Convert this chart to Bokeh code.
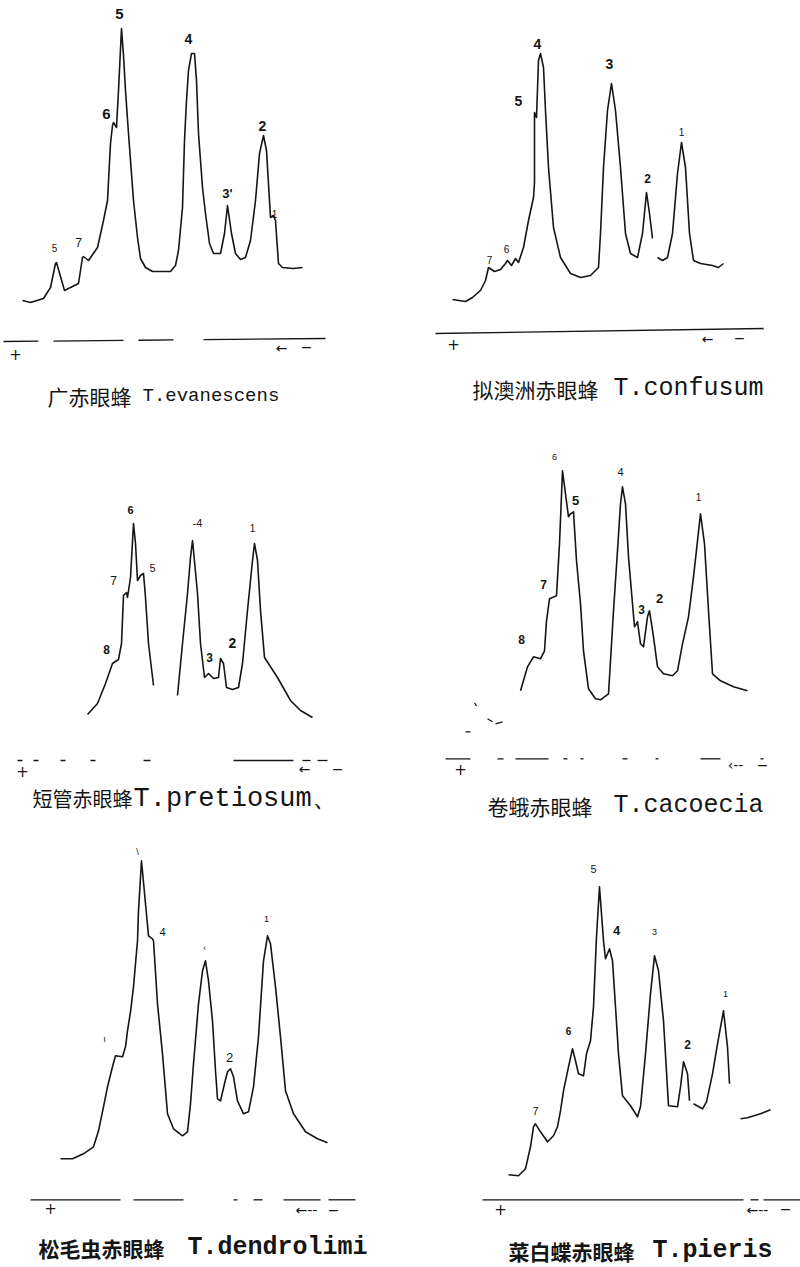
from bokeh.plotting import figure
from bokeh.layouts import column, row
from bokeh.models import Range1d, ColumnDataSource
from bokeh.core.properties import value
from bokeh.embed import file_html
from bokeh.resources import INLINE

NaN = float("nan")

# ---------------- data: densitometer traces (migration, density) ----------------
# Panel 1  T. evanescens
evan_x = [22, 30, 43, 50, 55, 56, 64, 78, 82, 83, 88, 97, 103, 107, 110, 112, 113, 116, 118, 121,
          123, 125, 128, 133, 137, 140, 145, 152, 170, 175, 178, 182, 184, 186, 188, 191, 194, 196,
          198, 202, 205, 209, 213, 220, 224, 227, 231, 235, 240, 245, 250, 255, 259, 263, 266, 270,
          273, 275, 278, 282, 293, 302]
evan_y = [40, 38, 42, 53, 77, 78, 50, 57, 83, 84, 80, 93, 120, 140, 197, 215, 218, 213, 250, 312,
          285, 250, 207, 140, 103, 82, 73, 69, 69, 75, 90, 133, 200, 240, 270, 287, 287, 260,
          207, 153, 127, 97, 87, 87, 107, 135, 107, 87, 81, 83, 100, 140, 187, 205, 190, 123,
          125, 120, 77, 73, 72, 73]
evan_lab = ["5", "4", "6", "2", "3'", "7", "5", "1"]
evan_lab_x = [119, 188, 106, 262, 227, 78, 54, 274]
evan_lab_y = [327, 302, 227, 215, 147, 98, 93, 127]

# Panel 2  T. confusum
conf_x = [52, 65, 72, 80, 85, 88, 94, 100, 105, 107, 111, 115, 118, 123, 128, 133, 134, 134, 136,
          138, 140, 143, 145, 148, 153, 160, 170, 180, 190, 198, 200, 203, 207, 211, 215, 220, 225,
          230, 237, 242, 246, 249, 252, NaN, 257, 262, 267, 272, 277, 281, 285, 289, 293, 300, 312,
          318, 323]
conf_y = [33, 31, 35, 42, 52, 65, 61, 63, 69, 72, 67, 74, 70, 85, 112, 135, 150, 220, 215,
          272, 279, 265, 222, 165, 105, 75, 59, 55, 57, 65, 99, 165, 222, 249, 222, 165, 99,
          79, 75, 99, 140, 119, 94, NaN, 75, 72, 75, 99, 159, 190, 165, 99, 72, 69, 67,
          65, 69]
conf_lab = ["4", "3", "5", "2", "1", "7", "6"]
conf_lab_x = [137, 209, 118, 247, 281, 89, 106]
conf_lab_y = [289, 269, 232, 154, 201, 73, 84]

# Panel 3  T. pretiosum
pret_x = [87, 97, 105, 112, 118, 121, 123, 126, 127, 130, 133, 135, 137, 140, 143, 145, 148, 153, NaN,
          177, 182, 187, 190, 192, 193, 197, 200, 204, 208, 213, 218, 220, 223, 226, 232, 238, 242,
          247, 252, 254, 257, 260, 264, 277, 290, 300, 312]
pret_y = [46, 57, 77, 97, 101, 117, 165, 168, 163, 183, 237, 217, 180, 185, 187, 163, 117, 75, NaN,
          65, 117, 167, 203, 220, 210, 167, 117, 83, 87, 82, 83, 102, 97, 73, 71, 73, 97,
          150, 200, 217, 200, 150, 103, 83, 60, 50, 43]
pret_lab = ["6", "7", "5", "8", "-4", "1", "3", "2"]
pret_lab_x = [130, 113, 152, 106, 197, 252, 209, 232]
pret_lab_y = [251, 180, 193, 111, 238, 233, 103, 118]

# Panel 4  T. cacoecia
caco_x = [120, 127, 133, 140, 144, 146, 149, 156, 159, 162, 165, 168, 170, 173, 176, 180, 183, 188,
          195, 200, 208, 210, 213, 217, 220, 222, 225, 228, 232, 234, 237, 240, 243, 247, 249, 253,
          257, 263, 272, 277, 282, 288, 293, 300, 304, 308, 312, 320, 333, 347]
caco_y = [68, 92, 102, 100, 108, 138, 160, 163, 215, 288, 265, 242, 245, 247, 198, 155, 108, 70,
          60, 59, 65, 98, 148, 208, 255, 272, 255, 202, 155, 132, 137, 115, 112, 142, 148, 122,
          92, 85, 83, 88, 115, 142, 182, 245, 215, 148, 85, 78, 72, 68]
caco_lab = ["6", "4", "5", "1", "7", "8", "3", "2"]
caco_lab_x = [154, 220, 175, 298, 143, 121, 241, 259]
caco_lab_y = [302, 287, 258, 262, 174, 119, 149, 160]
caco_stray_x = [65, 70, NaN, 87, 92, NaN, 95, 102, NaN, 74, 76]
caco_stray_y = [27, 27, NaN, 40, 37, NaN, 35, 37, NaN, 56, 53]

# Panel 5  T. dendrolimi
dend_x = [60, 72, 83, 93, 98, 103, 107, 112, 115, 122, 125, 127, 130, 133, 137, 138, 141, 145, 148,
          152, 153, 157, 162, 167, 173, 182, 187, 190, 193, 198, 202, 205, 208, 212, 215, 217, 220,
          224, 227, 230, 233, 237, 243, 248, 253, 258, 263, 267, 270, 275, 280, 285, 293, 305, 317, 327]
dend_y = [41, 41, 46, 53, 69, 93, 113, 133, 144, 143, 153, 169, 188, 213, 259, 289, 339, 296, 264,
          261, 259, 196, 146, 86, 71, 64, 68, 96, 136, 196, 229, 239, 219, 179, 129, 101, 99,
          116, 128, 131, 123, 99, 86, 88, 113, 163, 239, 264, 256, 213, 163, 109, 86, 68, 61, 57]
dend_lab = ["4", "‹", "1", "2", "ι", "\\"]
dend_lab_x = [162, 204, 266, 229, 104, 137]
dend_lab_y = [268, 252, 281, 142, 161, 348]

# Panel 6  T. pieris
pier_x = [108, 118, 125, 130, 133, 135, 140, 147, 153, 157, 160, 163, 168, 172, 175, 178, 183, 186,
          190, 193, 196, 199, 201, 203, 205, 209, 212, 215, 218, 222, 230, 237, 240, 245, 250, 254,
          258, 263, 268, 277, 280, 283, 287, 289, NaN, 293, 302, 306, 312, 317, 323, 327, 329, NaN,
          340, 347, 360, 370]
pier_y = [25, 24, 31, 53, 73, 76, 68, 58, 64, 73, 89, 109, 133, 151, 139, 126, 124, 146,
          159, 193, 263, 313, 286, 259, 241, 251, 239, 193, 146, 104, 94, 83, 93, 146, 206, 244,
          229, 179, 94, 93, 113, 138, 126, 99, NaN, 96, 91, 98, 126, 156, 189, 153, 116, NaN,
          81, 82, 86, 90]
pier_lab = ["5", "4", "3", "6", "7", "2", "1"]
pier_lab_x = [193, 216, 254, 168, 135, 287, 325]
pier_lab_y = [331, 269, 268, 169, 89, 155, 206]

# captions
cap_zh = ["广赤眼蜂", "拟澳洲赤眼蜂", "短管赤眼蜂", "卷蛾赤眼蜂", "松毛虫赤眼蜂", "菜白蝶赤眼蜂"]
cap_la = ["T.evanescens", "T.confusum", "T.pretiosum、", "T.cacoecia", "T.dendrolimi", "T.pieris"]

# baseline pieces (x start, x end)
base_p1 = [(3, 38), (53, 123), (138, 173), (203, 325)]
base_p2 = [(35, 363)]
base_p3 = [(17, 22), (33, 38), (60, 65), (90, 95), (143, 150), (233, 293), (302, 310), (317, 327)]
base_p4 = [(45, 70), (97, 103), (115, 148), (163, 167), (180, 183), (222, 227), (255, 258), (300, 320), (360, 363)]
base_p5 = [(30, 120), (133, 183), (233, 237), (253, 262), (283, 320), (328, 355)]
base_p6 = [(82, 343), (350, 358), (363, 400)]

# ---------------- styles / layout ----------------
INK = "#151515"
lab_size_p1 = ["15px", "14px", "15px", "14px", "13px", "12px", "10px", "10px"]
lab_bold_p1 = ["bold", "bold", "bold", "bold", "bold", "normal", "normal", "normal"]
lab_size_p2 = ["14px", "14px", "14px", "12px", "10px", "10px", "10px"]
lab_bold_p2 = ["bold", "bold", "bold", "bold", "normal", "normal", "normal"]
lab_size_p3 = ["11px", "12px", "11px", "12px", "11px", "10px", "12px", "14px"]
lab_bold_p3 = ["bold", "normal", "normal", "bold", "normal", "normal", "bold", "bold"]
lab_size_p4 = ["9px", "11px", "13px", "10px", "12px", "12px", "12px", "13px"]
lab_bold_p4 = ["normal", "normal", "bold", "normal", "bold", "bold", "bold", "bold"]
lab_size_p5 = ["11px", "9px", "9px", "13px", "9px", "9px"]
lab_bold_p5 = ["normal", "normal", "normal", "normal", "normal", "normal"]
lab_size_p6 = ["11px", "13px", "9px", "10px", "11px", "12px", "9px"]
lab_bold_p6 = ["normal", "bold", "normal", "bold", "normal", "bold", "normal"]


def make_panel(cx, cy, labs, lx, ly, lsize, lbold, base, zh, la, yr, h,
               zh_x, la_x, cap_y, zh_size, bold, la_size, plus_xy, arrow_xy, arrow_txt,
               minus_xy, base_tilt=(0, 0), stray=None):
    p = figure(width=400, height=h, x_range=Range1d(0, 400), y_range=Range1d(*yr),
               output_backend="svg", toolbar_location=None, min_border=0,
               x_axis_location=None, y_axis_location=None)
    p.grid.visible = False
    p.outline_line_color = None
    p.background_fill_color = "white"
    p.border_fill_color = "white"

    p.line(cx, cy, line_color=INK, line_width=1.6, line_join="round")
    if stray is not None:
        p.line(stray[0], stray[1], line_color=INK, line_width=1.2)

    src = ColumnDataSource(dict(x=lx, y=ly, t=labs, s=lsize, b=lbold))
    p.text("x", "y", text="t", source=src, text_font=value("Liberation Sans"),
           text_font_size="s", text_font_style="b", text_color=INK,
           text_align="center", text_baseline="middle")

    span = base[-1][1] - base[0][0]
    x0 = [a for a, b in base]
    x1 = [b for a, b in base]
    y0 = [base_tilt[0] + (base_tilt[1] - base_tilt[0]) * (a - base[0][0]) / span for a in x0]
    y1 = [base_tilt[0] + (base_tilt[1] - base_tilt[0]) * (b - base[0][0]) / span for b in x1]
    p.segment(x0, y0, x1, y1, line_color=INK, line_width=1.3)

    p.text([plus_xy[0]], [plus_xy[1]], text=["+"], text_font=value("DejaVu Sans"),
           text_font_size="15px", text_color=INK, text_align="center", text_baseline="middle")
    p.text([arrow_xy[0]], [arrow_xy[1]], text=[arrow_txt], text_font=value("DejaVu Sans"),
           text_font_size="14px", text_color=INK, text_align="center", text_baseline="middle")
    p.text([minus_xy[0]], [minus_xy[1]], text=["−"], text_font=value("DejaVu Sans"),
           text_font_size="14px", text_color=INK, text_align="center", text_baseline="middle")

    p.text([zh_x], [cap_y], text=[zh], text_font=value("Noto Sans CJK SC"),
           text_font_size=zh_size, text_font_style=bold, text_color=INK,
           text_align="left", text_baseline="middle")
    p.text([la_x], [cap_y], text=[la], text_font=value("Liberation Mono"),
           text_font_size=la_size, text_font_style=bold, text_color=INK,
           text_align="left", text_baseline="middle")
    return p


p1 = make_panel(evan_x, evan_y, evan_lab, evan_lab_x, evan_lab_y, lab_size_p1, lab_bold_p1,
                base_p1, cap_zh[0], cap_la[0], (-70, 340), 410,
                47, 142, -55, "21px", "normal", "19px",
                (15, -13), (281, -7), "←", (306, -6), base_tilt=(-1, 2))
p2 = make_panel(conf_x, conf_y, conf_lab, conf_lab_x, conf_lab_y, lab_size_p2, lab_bold_p2,
                base_p2, cap_zh[1], cap_la[1], (-78, 332), 410,
                72, 213, -56, "21px", "normal", "25px",
                (53, -11), (307, -6), "←", (339, -5), base_tilt=(-1, 4))
p3 = make_panel(pret_x, pret_y, pret_lab, pret_lab_x, pret_lab_y, lab_size_p3, lab_bold_p3,
                base_p3, cap_zh[2], cap_la[2], (-60, 350), 410,
                32, 133, -38, "20px", "normal", "27px",
                (22, -10), (304, -8), "←", (337, -8))
p4 = make_panel(caco_x, caco_y, caco_lab, caco_lab_x, caco_lab_y, lab_size_p4, lab_bold_p4,
                base_p4, cap_zh[3], cap_la[3], (-61.7, 348.3), 410,
                87, 213, -47, "21px", "normal", "25px",
                (60, -10), (335, -6), "‹--", (362, -6), stray=(caco_stray_x, caco_stray_y))
p5 = make_panel(dend_x, dend_y, dend_lab, dend_lab_x, dend_lab_y, lab_size_p5, lab_bold_p5,
                base_p5, cap_zh[4], cap_la[4], (-67.7, 379.3), 447,
                38, 187, -48, "21px", "bold", "25px",
                (50, -8), (306, -10), "←--", (333, -10))
p6 = make_panel(pier_x, pier_y, pier_lab, pier_lab_x, pier_lab_y, lab_size_p6, lab_bold_p6,
                base_p6, cap_zh[5], cap_la[5], (-67.7, 379.3), 447,
                108, 252, -51, "21px", "bold", "25px",
                (100, -9), (357, -10), "←--", (385, -9))

layout = column(row(p1, p2), row(p3, p4), row(p5, p6))
open("out.html", "w").write(file_html(layout, INLINE))
